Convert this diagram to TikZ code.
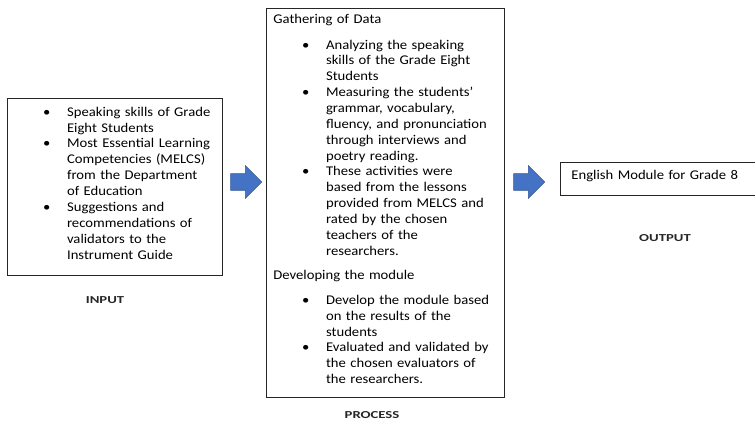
\documentclass[tikz,border=0pt]{standalone}
\usepackage{fontspec}
\setmainfont[FakeStretch=1.1]{Carlito}
\newfontfamily\capsfont[FakeStretch=1.38]{Carlito}
\usepackage{enumitem}
\usetikzlibrary{positioning,shapes.arrows}
\definecolor{ink}   {HTML}{000000}
\definecolor{office}{HTML}{4472C4}
\setlist[itemize]{leftmargin=39.5pt, rightmargin=-12pt, labelsep=12.5pt, topsep=0pt,
                  partopsep=0pt, itemsep=0pt, parsep=0pt}
\tikzset{
  every node/.style={font=\fontsize{10}{11.9}\selectfont},
  % --- boxes
  stage/.style = {draw=ink!85, line width=0.6pt, align=left, inner xsep=5.25pt,
                  inner ysep=0pt, anchor=north west},
  % --- block arrows
  push/.style  = {single arrow, fill=office, draw=office!75!black, line width=0.4pt,
                  minimum height=23.25pt, minimum width=24pt, inner xsep=0pt,
                  inner ysep=6pt, single arrow head extend=6pt},
  % --- captions
  lbl/.style   = {font=\capsfont\fontsize{8}{9}\selectfont\bfseries, text=ink!85},
}
\begin{document}
\begin{tikzpicture}[x=0.75pt,y=-0.75pt]
  \useasboundingbox (0,0) rectangle (755,423);
  \node[stage, text width=150.75pt, text height=1.5pt, text depth=131.25pt]
    (input) at (7,98) {%
    \begin{itemize}
      \item Speaking skills of Grade\newline Eight Students
      \item Most Essential Learning\newline Competencies (MELCS)\newline
            from the Department\newline of Education
      \item Suggestions and\newline recommendations of\newline
            validators to the\newline Instrument Guide
    \end{itemize}};
  \node[stage, text width=168pt, text height=11.6pt, text depth=280.15pt]
    (process) at (266,8) {%
    Gathering of Data\par\vspace{7pt}
    \begin{itemize}
      \item Analyzing the speaking\newline skills of the Grade Eight\newline Students
      \item Measuring the students'\newline grammar, vocabulary,\newline
            fluency, and pronunciation\newline through interviews and\newline
            poetry reading.
      \item These activities were\newline based from the lessons\newline
            provided from MELCS and\newline rated by the chosen\newline
            teachers of the\newline researchers.
    \end{itemize}\par\vspace{6pt}
    Developing the module\par\vspace{7pt}
    \begin{itemize}
      \item Develop the module based\newline on the results of the\newline students
      \item Evaluated and validated by\newline the chosen evaluators of\newline
            the researchers.
    \end{itemize}};
  \node[stage, inner xsep=8.25pt, text width=133pt, text height=12.75pt,
        text depth=12pt] (output) at (560,162) {English Module for Grade 8};
  \node[push] (a1) at (242,182) {};
  \node[push] (a2) at (525,182) {};
  \node[lbl] (inlbl)   at (105,300) {INPUT};
  \node[lbl] (proclbl) at (372,415) {PROCESS};
  \node[lbl] (outlbl)  at (665,238) {OUTPUT};
\end{tikzpicture}
\end{document}
